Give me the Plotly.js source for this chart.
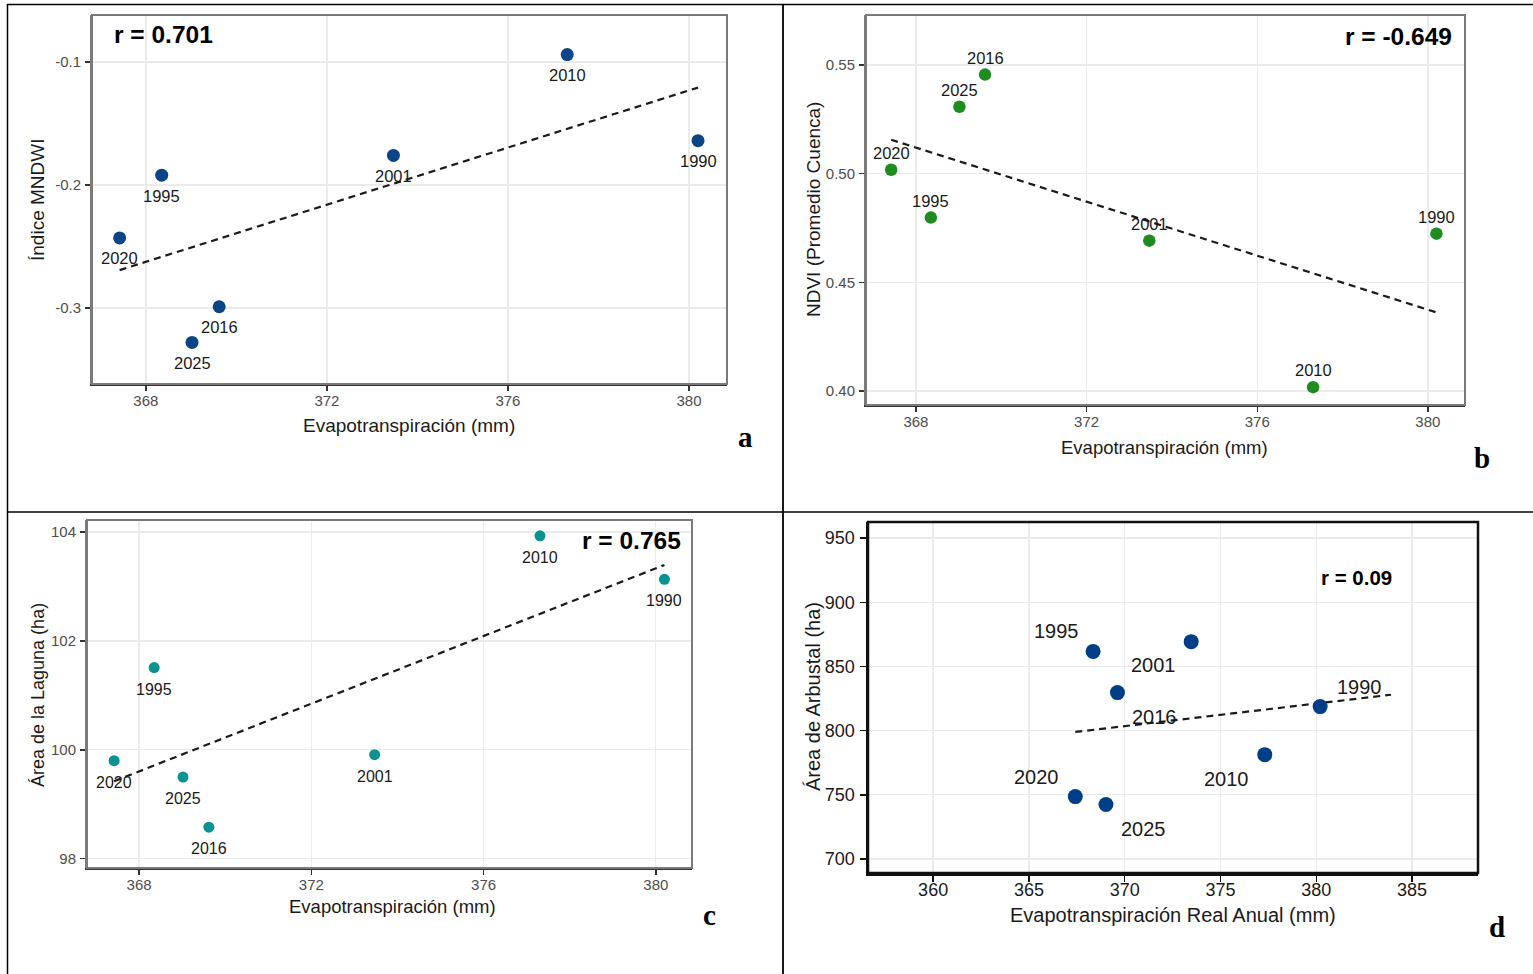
<!DOCTYPE html>
<html>
<head>
<meta charset="utf-8">
<script src="https://cdn.plot.ly/plotly-3.0.1.min.js"></script>
<style>
html,body{margin:0;padding:0;background:#fff;}
#chart{width:1533px;height:974px;}
</style>
</head>
<body>
<div id="chart"></div>
<script>
// ---------------- DATA ----------------
const years = ["1990", "1995", "2001", "2010", "2016", "2020", "2025"];
const evapo = [380.2, 368.35, 373.47, 377.31, 369.62, 367.42, 369.02];
const mndwi = [-0.164, -0.192, -0.176, -0.094, -0.299, -0.243, -0.328];
const ndvi = [0.4724, 0.4798, 0.4692, 0.4018, 0.5456, 0.5018, 0.5308];
const lagunaHa = [103.13, 101.51, 99.91, 103.93, 98.58, 99.80, 99.50];
const arbustalHa = [818.7, 861.7, 869.3, 781.3, 829.6, 748.6, 742.4];

const rText = ["r = 0.701", "r = -0.649", "r = 0.765", "r = 0.09"];
const panelLetters = ["a", "b", "c", "d"];
const xTitles = ["Evapotranspiración (mm)", "Evapotranspiración (mm)", "Evapotranspiración (mm)", "Evapotranspiración Real Anual (mm)"];
const yTitles = ["Índice MNDWI", "NDVI (Promedio Cuenca)", "Área de la Laguna (ha)", "Área de Arbustal (ha)"];

const etTicks = [368, 372, 376, 380];
const etTicksD = [360, 365, 370, 375, 380, 385];
const mndwiTicks = [-0.3, -0.2, -0.1];
const mndwiTickText = ["-0.3", "-0.2", "-0.1"];
const ndviTicks = [0.40, 0.45, 0.50, 0.55];
const lagunaTicks = [98, 100, 102, 104];
const arbustalTicks = [700, 750, 800, 850, 900, 950];
const trendEndD = 383.9;

// ---------------- HELPERS ----------------
const W = 1533, H = 974;
const px = v => v / W;
const py = v => 1 - v / H;
function ols(x, y) {
  const n = x.length;
  const mx = x.reduce((a, b) => a + b, 0) / n;
  const my = y.reduce((a, b) => a + b, 0) / n;
  let sxy = 0, sxx = 0;
  for (let i = 0; i < n; i++) { sxy += (x[i] - mx) * (y[i] - my); sxx += (x[i] - mx) ** 2; }
  const b = sxy / sxx;
  return { b: b, a: my - b * mx };
}
const FONT = "Liberation Sans, Arial, sans-serif";
const SERIF = "Liberation Serif, Times New Roman, serif";

const panels = [
  { y: mndwi, color: "#0b4587", size: 13, xa: "x", ya: "y", trendEnd: null },
  { y: ndvi, color: "#1e8c1e", size: 12.5, xa: "x2", ya: "y2", trendEnd: null },
  { y: lagunaHa, color: "#0a9290", size: 11, xa: "x3", ya: "y3", trendEnd: null },
  { y: arbustalHa, color: "#003f87", size: 15, xa: "x4", ya: "y4", trendEnd: trendEndD }
];

const traces = [];
const annotations = [];
panels.forEach((p, i) => {
  const fit = ols(evapo, p.y);
  const x0 = Math.min(...evapo);
  const x1 = p.trendEnd !== null ? p.trendEnd : Math.max(...evapo);
  traces.push({
    x: [x0, x1], y: [fit.a + fit.b * x0, fit.a + fit.b * x1],
    xaxis: p.xa, yaxis: p.ya, mode: "lines",
    line: { color: "#1a1a1a", width: 2.2, dash: "7px,5px" },
    hoverinfo: "skip", showlegend: false
  });
  traces.push({
    x: evapo, y: p.y, text: years, xaxis: p.xa, yaxis: p.ya, mode: "markers",
    marker: { color: p.color, size: p.size },
    showlegend: false
  });
});

// label placement (style): panel a/c below, b above, d around
const dOffsets = { "1990": [39, -20], "1995": [-37, -20], "2001": [-38, 23], "2010": [-38, 24], "2016": [37, 24], "2020": [-39, -20], "2025": [38, 24] };
years.forEach((yr, k) => {
  annotations.push({ x: evapo[k], y: mndwi[k], xref: "x", yref: "y", text: yr, showarrow: false, yshift: -20.5, font: { family: FONT, size: 16.5, color: "#1a1a1a" } });
  annotations.push({ x: evapo[k], y: ndvi[k], xref: "x2", yref: "y2", text: yr, showarrow: false, yshift: 17, font: { family: FONT, size: 16.5, color: "#1a1a1a" } });
  annotations.push({ x: evapo[k], y: lagunaHa[k], xref: "x3", yref: "y3", text: yr, showarrow: false, yshift: -21.5, font: { family: FONT, size: 16, color: "#1a1a1a" } });
  const o = dOffsets[yr];
  annotations.push({ x: evapo[k], y: arbustalHa[k], xref: "x4", yref: "y4", text: yr, showarrow: false, xshift: o[0], yshift: -o[1], font: { family: FONT, size: 20, color: "#1a1a1a" } });
});

// r annotations
annotations.push({ xref: "paper", yref: "paper", x: px(112), y: py(34), xanchor: "left", yanchor: "middle", text: "<b>" + rText[0] + "</b>", showarrow: false, font: { family: FONT, size: 24.5, color: "#000" } });
annotations.push({ xref: "paper", yref: "paper", x: px(1454), y: py(37), xanchor: "right", yanchor: "middle", text: "<b>" + rText[1] + "</b>", showarrow: false, font: { family: FONT, size: 24.5, color: "#000" } });
annotations.push({ xref: "paper", yref: "paper", x: px(683), y: py(540), xanchor: "right", yanchor: "middle", text: "<b>" + rText[2] + "</b>", showarrow: false, font: { family: FONT, size: 24.5, color: "#000" } });
annotations.push({ xref: "paper", yref: "paper", x: px(1356), y: py(577), xanchor: "center", yanchor: "middle", text: "<b>" + rText[3] + "</b>", showarrow: false, font: { family: FONT, size: 20.5, color: "#000" } });

// axis titles
const xtPos = [[409, 425, 19], [1164, 447, 18.5], [392, 906, 18.5], [1173, 915, 20]];
const ytPos = [[38, 200, 19], [813, 210, 19], [38, 695, 18], [813, 697, 20]];
xtPos.forEach((p, i) => annotations.push({ xref: "paper", yref: "paper", x: px(p[0]), y: py(p[1]), xanchor: "center", yanchor: "middle", text: xTitles[i], showarrow: false, font: { family: FONT, size: p[2], color: "#1a1a1a" } }));
ytPos.forEach((p, i) => annotations.push({ xref: "paper", yref: "paper", x: px(p[0]), y: py(p[1]), xanchor: "center", yanchor: "middle", textangle: -90, text: yTitles[i], showarrow: false, font: { family: FONT, size: p[2], color: "#1a1a1a" } }));

// panel letters
const letterPos = [[745, 437], [1482, 458], [709, 915], [1497, 927]];
letterPos.forEach((p, i) => annotations.push({ xref: "paper", yref: "paper", x: px(p[0]), y: py(p[1]), xanchor: "center", yanchor: "middle", text: "<b>" + panelLetters[i] + "</b>", showarrow: false, font: { family: SERIF, size: 29, color: "#000" } }));

function xax(dom, range, ticks, big) {
  return {
    domain: dom, range: range, tickvals: ticks, ticktext: ticks.map(String),
    showgrid: true, gridcolor: "#ebebeb", gridwidth: 1.3, zeroline: false,
    showline: true, linecolor: big ? "#111" : "#333", linewidth: big ? 2.5 : 2,
    ticks: "outside", ticklen: big ? 6 : 5, tickwidth: 1.4, tickcolor: big ? "#111" : "#333",
    tickfont: { family: FONT, size: big ? 18 : 15, color: big ? "#1a1a1a" : "#4d4d4d" },
    ticklabelstandoff: big ? -7 : -3, fixedrange: true
  };
}
function yax(dom, range, ticks, text, big, anchor) {
  const a = xax(dom, range, ticks, big);
  a.ticktext = text;
  a.linecolor = big ? "#111" : "#7a7a7a";
  a.ticklabelstandoff = big ? 1 : 1;
  a.anchor = anchor;
  return a;
}

const shapes = [
  // panel frames
  { type: "rect", xref: "x domain", yref: "y domain", x0: 0, x1: 1, y0: 0, y1: 1, line: { color: "#7a7a7a", width: 2 } },
  { type: "rect", xref: "x2 domain", yref: "y2 domain", x0: 0, x1: 1, y0: 0, y1: 1, line: { color: "#7a7a7a", width: 2 } },
  { type: "rect", xref: "x3 domain", yref: "y3 domain", x0: 0, x1: 1, y0: 0, y1: 1, line: { color: "#7a7a7a", width: 2 } },
  { type: "rect", xref: "x4 domain", yref: "y4 domain", x0: 0, x1: 1, y0: 0, y1: 1, line: { color: "#111", width: 2.5 } },
  // table lines
  { type: "line", xref: "paper", yref: "paper", x0: px(7), x1: 1, y0: py(4.5), y1: py(4.5), line: { color: "#000", width: 1.5 } },
  { type: "line", xref: "paper", yref: "paper", x0: px(7.5), x1: px(7.5), y0: py(4), y1: 0, line: { color: "#000", width: 1.5 } },
  { type: "line", xref: "paper", yref: "paper", x0: px(783), x1: px(783), y0: py(4), y1: 0, line: { color: "#000", width: 1.8 } },
  { type: "line", xref: "paper", yref: "paper", x0: px(7), x1: 1, y0: py(512), y1: py(512), line: { color: "#000", width: 1.5 } }
];

const etStr = ticks => ticks.map(String);
const layout = {
  width: W, height: H, margin: { l: 0, r: 0, t: 0, b: 0 },
  paper_bgcolor: "#fff", plot_bgcolor: "#fff", showlegend: false,
  xaxis: Object.assign(xax([px(92), px(727)], [366.81, 380.84], etTicks, false), { anchor: "y" }),
  yaxis: yax([py(384), py(15)], [-0.3618, -0.0618], mndwiTicks, mndwiTickText, false, "x"),
  xaxis2: Object.assign(xax([px(866), px(1465)], [366.83, 380.87], etTicks, false), { anchor: "y2" }),
  yaxis2: yax([py(405), py(15)], [0.3936, 0.573], ndviTicks, ndviTicks.map(v => v.toFixed(2)), false, "x2"),
  xaxis3: Object.assign(xax([px(87), px(692)], [366.79, 380.84], etTicks, false), { anchor: "y3" }),
  yaxis3: yax([py(868), py(520)], [97.83, 104.22], lagunaTicks, etStr(lagunaTicks), false, "x3"),
  xaxis4: Object.assign(xax([px(868), px(1478)], [356.6, 388.44], etTicksD, true), { anchor: "y4" }),
  yaxis4: yax([py(873), py(522)], [689.1, 962.5], arbustalTicks, etStr(arbustalTicks), true, "x4"),
  annotations: annotations, shapes: shapes
};

Plotly.newPlot("chart", traces, layout, { displayModeBar: false, staticPlot: true });
</script>
</body>
</html>
